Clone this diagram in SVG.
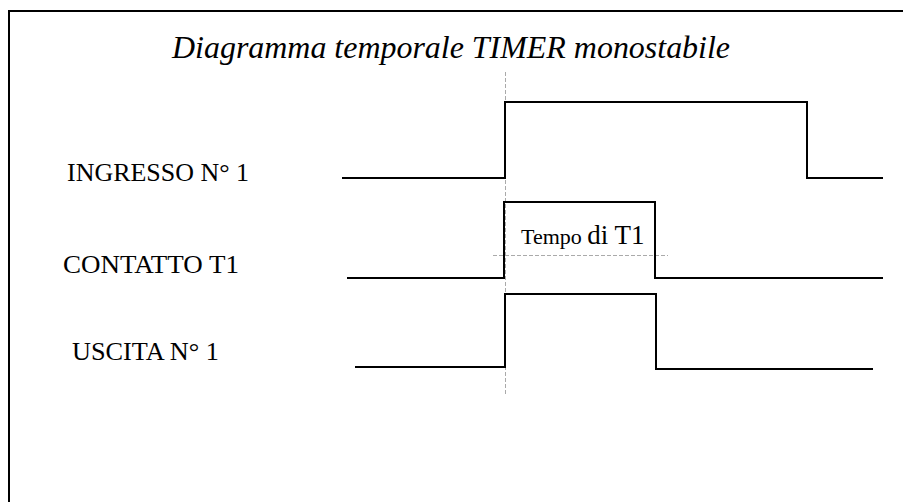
<svg xmlns="http://www.w3.org/2000/svg" width="903" height="502" viewBox="0 0 903 502">
  <style>
    .frame { fill: none; stroke: #000; stroke-width: 2; }
    .wave { fill: none; stroke: #000; stroke-width: 2; stroke-linejoin: miter; }
    .guide { fill: none; stroke: #aaa; stroke-width: 1; stroke-dasharray: 4 2; }
    .label { font-family: "Liberation Serif", "Times New Roman", serif; font-size: 26px; fill: #000; }
    .title { font-family: "Liberation Serif", "Times New Roman", serif; font-size: 31px; font-style: italic; fill: #000; }
  </style>
  <rect width="903" height="502" fill="#fff"/>
  <!-- outer frame (right and bottom edges fall outside the page) -->
  <rect class="frame" x="9" y="11" width="904" height="504"/>

  <text class="title" x="172" y="58" textLength="558" lengthAdjust="spacingAndGlyphs">Diagramma temporale TIMER monostabile</text>

  <!-- timing reference guides -->
  <g id="guides">
    <line class="guide" x1="505.5" y1="72" x2="505.5" y2="396"/>
    <line class="guide" x1="493" y1="255.5" x2="668" y2="255.5"/>
  </g>

  <g id="ingresso">
    <text class="label" x="67" y="181" textLength="182" lengthAdjust="spacingAndGlyphs">INGRESSO N° 1</text>
    <polyline class="wave" points="342,178 505,178 505,102 807,102 807,178 883,178"/>
  </g>

  <g id="contatto">
    <text class="label" x="63" y="273" textLength="176" lengthAdjust="spacingAndGlyphs">CONTATTO T1</text>
    <polyline class="wave" points="347,278 504,278 504,202 655,202 655,278 883,278"/>
    <text x="521" y="244" font-family="'Liberation Serif', 'Times New Roman', serif" fill="#000"><tspan font-size="22">Tempo </tspan><tspan font-size="27">di T1</tspan></text>
  </g>

  <g id="uscita">
    <text class="label" x="72" y="360" textLength="147" lengthAdjust="spacingAndGlyphs">USCITA N° 1</text>
    <polyline class="wave" points="355,367 505,367 505,294 656,294 656,369 873,369"/>
  </g>
</svg>
